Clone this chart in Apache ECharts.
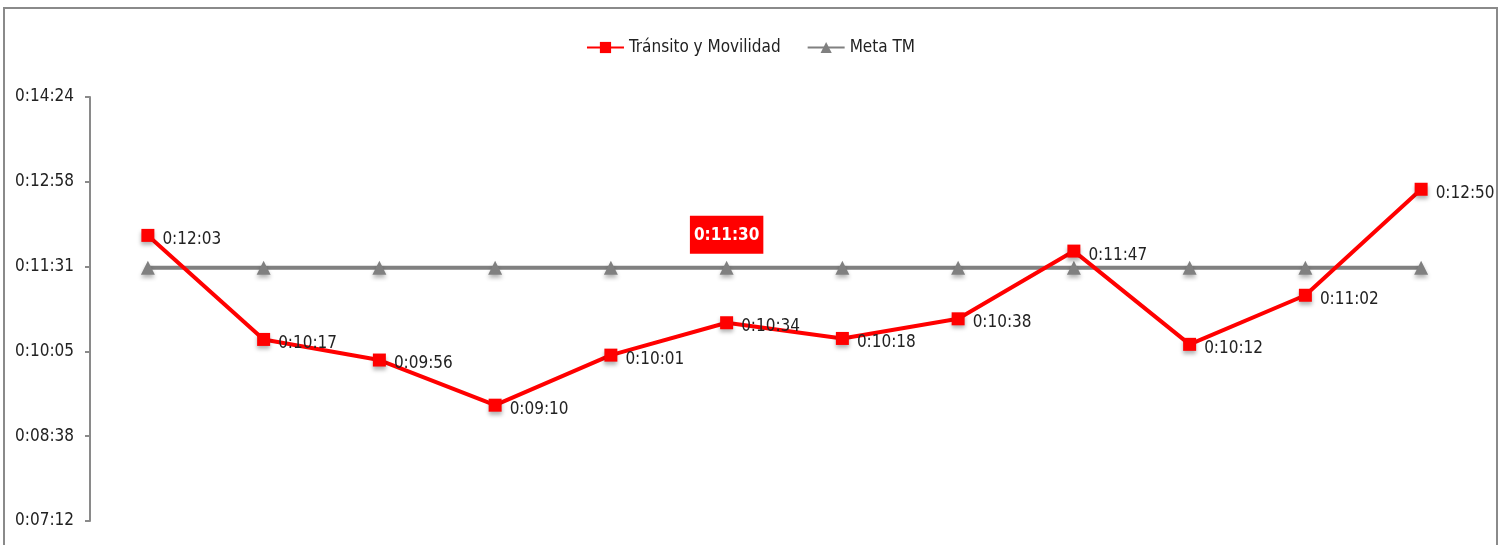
<!DOCTYPE html>
<html>
<head>
<meta charset="utf-8">
<script src="https://cdn.jsdelivr.net/npm/echarts@6/dist/echarts.min.js"></script>
<style>
  html, body { margin: 0; padding: 0; background: #fff; }
  #chartLine { width: 1501px; height: 545px; }
</style>
</head>
<body>
<div id="chartLine"></div>
<script>
// meses (no se ven en la imagen, el eje X queda recortado)
const categories = ['Ene', 'Feb', 'Mar', 'Abr', 'May', 'Jun', 'Jul', 'Ago', 'Sep', 'Oct', 'Nov', 'Dic'];
// tiempos en segundos
const transito = [723, 617, 596, 550, 601, 634, 618, 638, 707, 612, 662, 770];
const metaTM = [690, 690, 690, 690, 690, 690, 690, 690, 690, 690, 690, 690];
// ejes: 0.001 día = 86.4 s
const yMin = 432;
const yMax = 864;
const yStep = 86.4;
const metaLabelIndex = 5;

const FONT = "'Liberation Sans Narrow', 'DejaVu Sans Condensed', sans-serif";

function fmtTime(sec) {
  let s = Math.round(sec);
  const h = Math.floor(s / 3600);
  s -= h * 3600;
  const m = Math.floor(s / 60);
  s -= m * 60;
  return h + ':' + String(m).padStart(2, '0') + ':' + String(s).padStart(2, '0');
}

const chart = echarts.init(document.getElementById('chartLine'));
chart.setOption({
  animation: false,
  textStyle: { fontFamily: FONT },
  graphic: [{
    type: 'rect',
    shape: { x: 4, y: 8, width: 1493, height: 600 },
    style: { fill: 'none', stroke: '#8a8a8a', lineWidth: 2 },
    silent: true
  }],
  legend: {
    top: 34,
    left: 'center',
    itemGap: 26,
    itemWidth: 37,
    itemHeight: 14,
    textStyle: { fontFamily: FONT, fontSize: 17, color: '#222' },
    data: ['Tránsito y Movilidad', 'Meta TM']
  },
  grid: { left: 90, right: 22, top: 97, bottom: 24 },
  xAxis: {
    type: 'category',
    data: categories,
    boundaryGap: true,
    axisLine: { show: false },
    axisTick: { show: false },
    axisLabel: { show: false },
    splitLine: { show: false }
  },
  yAxis: {
    type: 'value',
    min: yMin,
    max: yMax,
    interval: yStep,
    axisLine: { show: true, lineStyle: { color: '#8a8a8a', width: 2 } },
    axisTick: { show: true, inside: false, length: 5, lineStyle: { color: '#8a8a8a', width: 2 } },
    splitLine: { show: false },
    axisLabel: {
      formatter: v => fmtTime(v),
      fontFamily: FONT,
      fontSize: 17,
      color: '#222',
      margin: 16
    }
  },
  series: [
    {
      name: 'Meta TM',
      type: 'line',
      data: metaTM.map((v, i) => i === metaLabelIndex ? {
        value: v,
        label: {
          show: true,
          position: 'top',
          distance: 7,
          formatter: p => fmtTime(p.value),
          backgroundColor: '#ff0000',
          color: '#fff',
          fontWeight: 'bold',
          fontSize: 17,
          fontFamily: FONT,
          padding: [11, 4, 10, 4]
        }
      } : v),
      symbol: 'triangle',
      symbolSize: 14,
      lineStyle: { color: '#808080', width: 4 },
      itemStyle: { color: '#808080', shadowColor: 'rgba(0,0,0,0.3)', shadowBlur: 4, shadowOffsetY: 3 },
      z: 2
    },
    {
      name: 'Tránsito y Movilidad',
      type: 'line',
      data: transito,
      symbol: 'rect',
      symbolSize: 13,
      lineStyle: { color: '#ff0000', width: 4 },
      itemStyle: { color: '#ff0000', shadowColor: 'rgba(0,0,0,0.3)', shadowBlur: 4, shadowOffsetY: 3 },
      label: {
        show: true,
        position: 'right',
        distance: 8,
        offset: [0, 4],
        formatter: p => fmtTime(p.value),
        color: '#222',
        fontSize: 17,
        fontFamily: FONT
      },
      z: 3
    }
  ]
});
</script>
</body>
</html>
